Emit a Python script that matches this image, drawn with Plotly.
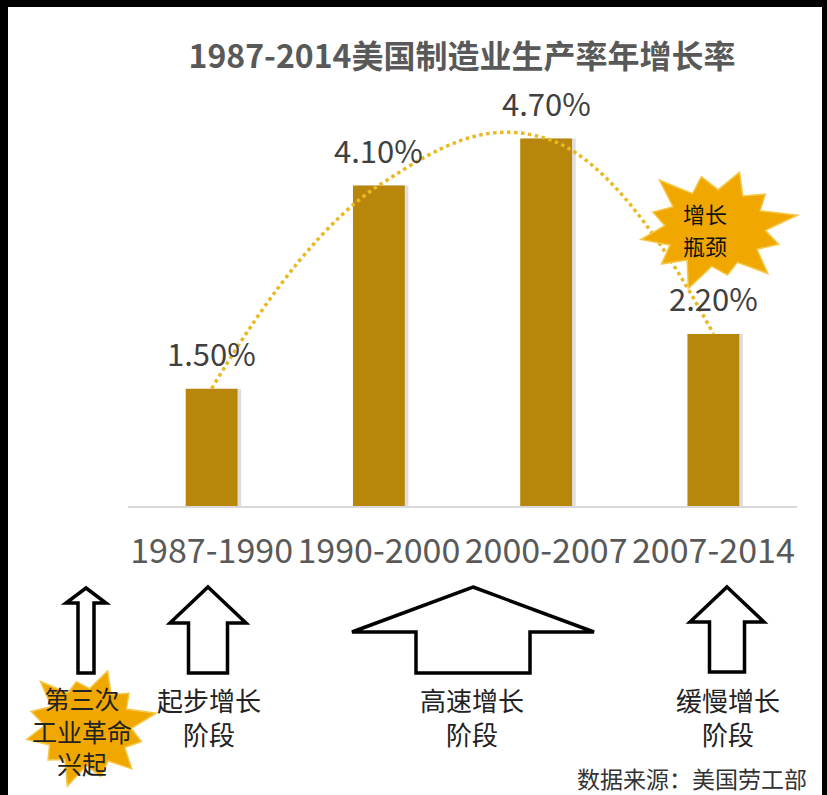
import numpy as np
import plotly.graph_objects as go

# ---- data ----
periods = ["1987-1990", "1990-2000", "2000-2007", "2007-2014"]
growth = [1.5, 4.1, 4.7, 2.2]
title_text = "1987-2014美国制造业生产率年增长率"
stage_labels = ["第三次<br>工业革命<br>兴起", "起步增长<br>阶段", "高速增长<br>阶段", "缓慢增长<br>阶段"]
burst_label = ["增长", "瓶颈"]
source_text = "数据来源：美国劳工部"

W, H = 827, 795
FONT = "Noto Sans CJK SC"
BAR = "#B8860B"
GOLD = "#F0A800"


def px(x):
    return x / W


def py(y):
    return 1 - y / H


fig = go.Figure()

x_idx = list(range(len(periods)))

# soft drop shadow on the right edge of each column
fig.add_trace(go.Bar(
    x=x_idx, y=growth, width=0.31, offset=-0.155 + 0.022,
    marker=dict(color="rgba(0,0,0,0.13)", line=dict(width=0)),
    hoverinfo="skip",
))
fig.add_trace(go.Bar(
    x=x_idx, y=growth, width=0.31, offset=-0.155,
    marker=dict(color=BAR, line=dict(width=0)),
    hoverinfo="skip",
))

# smoothed dotted trend line through the values
fig.add_trace(go.Scatter(
    x=x_idx, y=growth, mode="lines",
    line=dict(shape="spline", smoothing=1.2, color="#E8B923", width=3.5, dash="dot"),
    hoverinfo="skip",
))

annotations = []
for i, v in enumerate(growth):
    annotations.append(dict(
        x=i, y=v, xref="x", yref="y", text=f"{v:.2f}%", showarrow=False,
        yanchor="middle", yshift=36,
        font=dict(family=FONT, size=31, color="#404040"),
    ))

shapes = []


def star_path(cx, cy, rx, ry, n, inner, rot=0.0, spikes=None):
    pts = []
    for k in range(2 * n):
        a = rot + np.pi * k / n
        r = 1.0 if k % 2 == 0 else inner
        if spikes is not None and k % 2 == 0:
            r *= spikes[(k // 2) % len(spikes)]
        pts.append((cx + rx * r * np.cos(a), cy + ry * r * np.sin(a)))
    return "M " + " L ".join(f"{px(x):.5f},{py(y):.5f}" for x, y in pts) + " Z"


spike = [1.0, 0.8, 0.95, 0.75, 1.0, 0.85, 0.9, 0.78, 1.0, 0.82, 0.92, 0.8]
shapes.append(dict(type="path", xref="paper", yref="paper",
                   path=star_path(715, 228, 84, 64, 12, 0.6, rot=-0.2, spikes=spike),
                   fillcolor=GOLD, line=dict(color="#F6C84A", width=1.5), layer="above"))
shapes.append(dict(type="path", xref="paper", yref="paper",
                   path=star_path(88, 727, 70, 62, 12, 0.62, rot=0.3, spikes=spike[::-1]),
                   fillcolor=GOLD, line=dict(color="#F6C84A", width=1.5), layer="above"))


def arrow_path(cx, top, base, head_half, shaft_half, bottom):
    pts = [(cx, top), (cx + head_half, base), (cx + shaft_half, base),
           (cx + shaft_half, bottom), (cx - shaft_half, bottom),
           (cx - shaft_half, base), (cx - head_half, base)]
    return "M " + " L ".join(f"{px(x):.5f},{py(y):.5f}" for x, y in pts) + " Z"


arrows = [
    (86, 588, 603, 20, 8, 673),
    (208, 587, 623, 38, 19.5, 673),
    (473, 587, 632, 121, 57, 673),
    (727, 587, 622, 37, 17.5, 672),
]
for a in arrows:
    shapes.append(dict(type="path", xref="paper", yref="paper", path=arrow_path(*a),
                       fillcolor="white", line=dict(color="black", width=3.5), layer="above"))

# black frame
shapes += [
    dict(type="rect", xref="paper", yref="paper", x0=0, x1=px(8), y0=0, y1=1,
         fillcolor="black", line=dict(width=0), layer="above"),
    dict(type="rect", xref="paper", yref="paper", x0=0, x1=1, y0=py(7), y1=1,
         fillcolor="black", line=dict(width=0), layer="above"),
    dict(type="rect", xref="paper", yref="paper", x0=px(822), x1=1, y0=0, y1=1,
         fillcolor="black", line=dict(width=0), layer="above"),
]

# stage captions under the arrows
stage_pos = [(82, 730, 25), (209, 716, 26), (472, 716, 26), (728, 716, 26)]
for text, (cx, cy, fs) in zip(stage_labels, stage_pos):
    annotations.append(dict(x=px(cx), y=py(cy), xref="paper", yref="paper", text=text,
                            showarrow=False, xanchor="center", yanchor="middle",
                            font=dict(family=FONT, size=fs, color="#222222")))

# caption inside the burst, one annotation per line
for t, y in zip(burst_label, [213, 245]):
    annotations.append(dict(x=px(705), y=py(y), xref="paper", yref="paper", text=t,
                            showarrow=False, xanchor="center", yanchor="middle",
                            font=dict(family=FONT, size=22, color="#111111")))

annotations.append(dict(x=px(809), y=py(778), xref="paper", yref="paper", text=source_text,
                        showarrow=False, xanchor="right", yanchor="middle",
                        font=dict(family=FONT, size=23, color="#333333")))

fig.update_layout(
    width=W, height=H,
    margin=dict(l=0, r=0, t=0, b=0),
    paper_bgcolor="white", plot_bgcolor="white",
    showlegend=False,
    barmode="overlay",
    title=dict(text=f"<b>{title_text}</b>", x=px(462), xanchor="center",
               y=py(57), yanchor="middle",
               font=dict(family=FONT, size=32, color="#595959")),
    xaxis=dict(domain=[px(128), px(797)], range=[-0.5, 3.5],
               tickmode="array", tickvals=x_idx, ticktext=periods,
               showgrid=False, zeroline=False, showline=True, linecolor="#D9D9D9", linewidth=1.5,
               ticks="", ticklabelstandoff=14,
               tickfont=dict(family=FONT, size=34, color="#595959")),
    yaxis=dict(domain=[py(506), py(506 - 5 * 78.2)], range=[0, 5], visible=False),
    shapes=shapes,
    annotations=annotations,
)

fig.write_html("out.html")
